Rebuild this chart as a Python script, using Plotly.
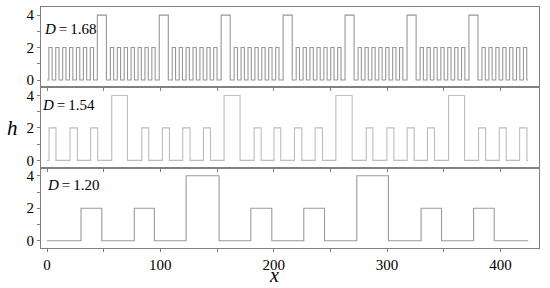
import plotly.graph_objects as go
from plotly.subplots import make_subplots

# pulse edges (x) and heights
d168_start = [1.6, 7.7, 13.8, 19.9, 26.0, 32.1, 38.2,
              44.4, 55.9, 62.0, 68.1, 74.2, 80.3, 86.4, 92.5,
              99.0, 110.5, 116.6, 122.7, 128.8, 134.9, 141.0, 147.1,
              153.6, 165.1, 171.2, 177.3, 183.4, 189.5, 195.6, 201.7,
              208.3, 219.8, 225.9, 232.0, 238.1, 244.2, 250.3, 256.4,
              262.9, 274.4, 280.5, 286.6, 292.7, 298.8, 304.9, 311.0,
              317.6, 329.1, 335.2, 341.3, 347.4, 353.5, 359.6, 365.7,
              372.2, 383.7, 389.8, 395.9, 402.0, 408.1, 414.2, 420.3]
d168_end = [4.5, 10.6, 16.7, 22.8, 28.9, 35.0, 41.1,
            52.4, 58.8, 64.9, 71.0, 77.1, 83.2, 89.3, 95.4,
            107.0, 113.4, 119.5, 125.6, 131.7, 137.8, 143.9, 150.0,
            161.6, 168.0, 174.1, 180.2, 186.3, 192.4, 198.5, 204.6,
            216.3, 222.7, 228.8, 234.9, 241.0, 247.1, 253.2, 259.3,
            270.9, 277.3, 283.4, 289.5, 295.6, 301.7, 307.8, 313.9,
            325.6, 332.0, 338.1, 344.2, 350.3, 356.4, 362.5, 368.6,
            380.2, 386.6, 392.7, 398.8, 404.9, 411.0, 417.1, 423.2]
d168_h = [2, 2, 2, 2, 2, 2, 2,
          4, 2, 2, 2, 2, 2, 2, 2,
          4, 2, 2, 2, 2, 2, 2, 2,
          4, 2, 2, 2, 2, 2, 2, 2,
          4, 2, 2, 2, 2, 2, 2, 2,
          4, 2, 2, 2, 2, 2, 2, 2,
          4, 2, 2, 2, 2, 2, 2, 2,
          4, 2, 2, 2, 2, 2, 2, 2]

d154_start = [1.8, 20.3, 38.5, 57.1, 83.6, 101.8, 119.7, 138.0, 156.2, 182.7, 200.2,
              218.3, 236.5, 254.8, 281.6, 299.8, 317.7, 335.6, 354.2, 380.7, 399.0, 416.9]
d154_end = [7.9, 26.8, 44.7, 70.9, 89.7, 108.0, 126.2, 144.2, 170.3, 188.9, 206.2,
            224.8, 243.0, 269.2, 287.5, 306.0, 323.9, 341.8, 368.3, 386.9, 405.1, 423.4]
d154_h = [2, 2, 2, 4, 2, 2, 2, 2, 4, 2, 2, 2, 2, 4, 2, 2, 2, 2, 4, 2, 2, 2]

d120_start = [30.0, 77.0, 122.7, 179.8, 226.5, 273.3, 330.0, 376.3]
d120_end = [48.3, 94.7, 151.8, 198.3, 244.8, 301.2, 348.0, 394.5]
d120_h = [2, 2, 4, 2, 2, 4, 2, 2]

x_end = 424.5
labels = ['1.68', '1.54', '1.20']


def path(starts, ends, hs):
    xs, ys = [0], [0]
    for s, e, h in zip(starts, ends, hs):
        xs += [s, s, e, e]
        ys += [0, h, h, 0]
    xs.append(x_end)
    ys.append(0)
    return xs, ys


fig = make_subplots(rows=3, cols=1, shared_xaxes=True, vertical_spacing=0)

series = [(d168_start, d168_end, d168_h, '#979797'),
          (d154_start, d154_end, d154_h, '#bdbdbd'),
          (d120_start, d120_end, d120_h, '#9a9a9a')]
for i, (s, e, h, c) in enumerate(series):
    xs, ys = path(s, e, h)
    fig.add_trace(go.Scatter(x=xs, y=ys, mode='lines', line=dict(color=c, width=1.1),
                             showlegend=False, hoverinfo='skip'), row=i + 1, col=1)

frame = '#808080'
tfont = dict(family='Liberation Serif', size=15, color='black')
for i in range(1, 4):
    fig.update_xaxes(range=[-5.3, 434], showline=True, linecolor=frame, linewidth=1, mirror=True,
                     showgrid=False, zeroline=False, ticks='outside', ticklen=3, tickcolor=frame,
                     tickvals=[0, 50, 100, 150, 200, 250, 300, 350, 400],
                     ticktext=['0', '', '100', '', '200', '', '300', '', '400'],
                     showticklabels=(i == 3), tickfont=tfont, automargin=False, row=i, col=1)
    fig.update_yaxes(range=[-0.45, 4.5], showline=True, linecolor=frame, linewidth=1, mirror=True,
                     showgrid=False, zeroline=False, ticks='outside', ticklen=3, tickcolor=frame,
                     tickvals=[0, 1, 2, 3, 4], ticktext=['0', '', '2', '', '4'],
                     tickfont=tfont, automargin=False, row=i, col=1)

ann_pos = [(0.002, 0.9075), (-0.003, 0.593), (0.009, 0.261)]
for (ax, ay), lab in zip(ann_pos, labels):
    fig.add_annotation(x=ax, y=ay, xref='paper', yref='paper', xanchor='left', yanchor='middle',
                       text='<i>D</i>\u2009=\u2009' + lab, showarrow=False,
                       font=dict(family='Liberation Serif', size=15, color='black'))

fig.add_annotation(x=-0.058, y=0.498, xref='paper', yref='paper', xanchor='center', yanchor='middle',
                   text='<i>h</i>', showarrow=False,
                   font=dict(family='Liberation Serif', size=21, color='black'))
fig.add_annotation(x=0.468, y=-0.166, xref='paper', yref='paper', xanchor='center', yanchor='bottom',
                   text='<i>x</i>', showarrow=False,
                   font=dict(family='Liberation Serif', size=20, color='black'))

fig.update_layout(width=550, height=288, margin=dict(l=41, r=11, t=7, b=40),
                  plot_bgcolor='white', paper_bgcolor='white')

# page body has a default 8px margin; drop it so the figure sits at the corner
fig.write_html("out.html", config={'displayModeBar': False},
               post_script="document.body.style.margin='0';")
